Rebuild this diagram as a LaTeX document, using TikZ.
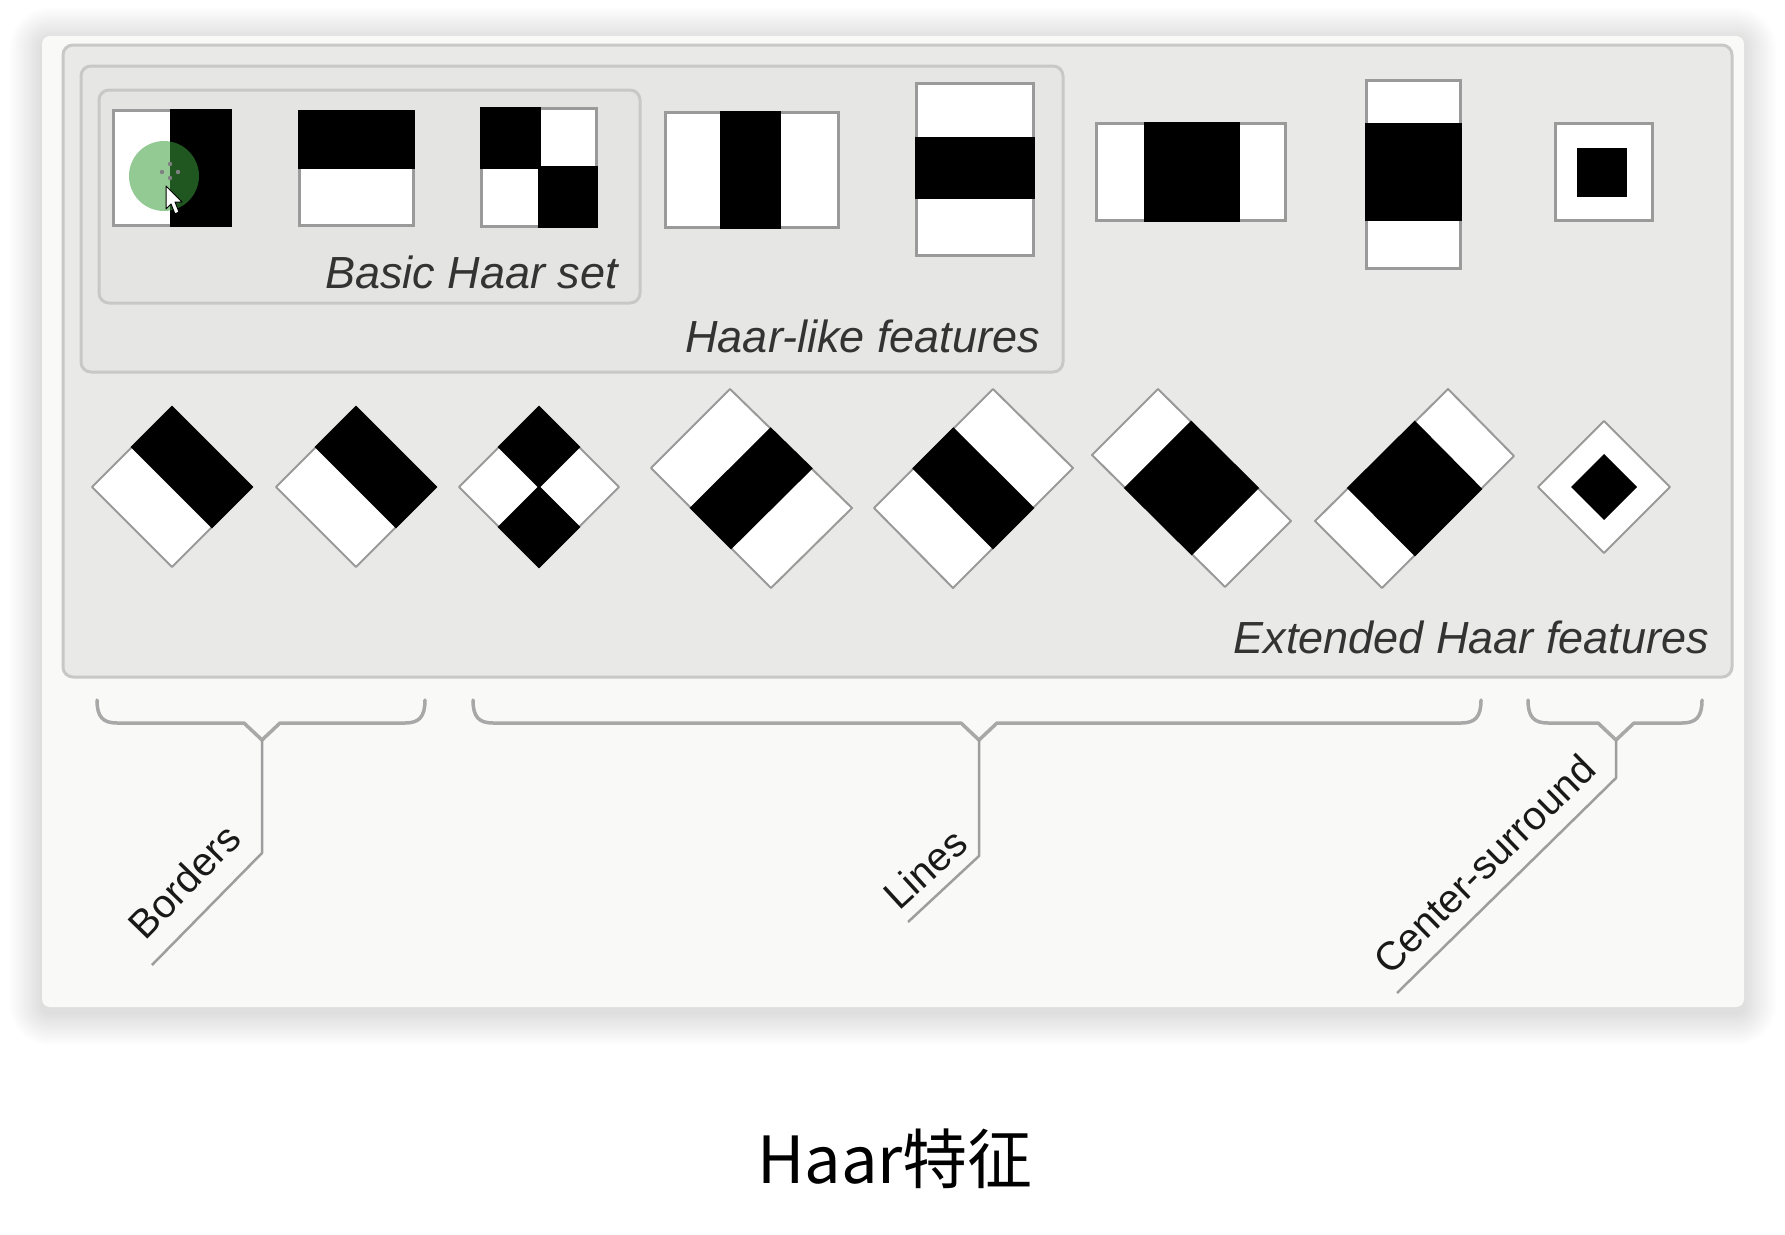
\documentclass[tikz,border=0pt]{standalone}
\usepackage{fontspec}
\setmainfont{Liberation Sans}
\newfontfamily\cjkfont{Noto Sans CJK SC}
\usetikzlibrary{calc}
\definecolor{cardbg}{HTML}{F9FAF8}
\definecolor{panelA}{HTML}{E9EAE8}
\definecolor{panelB}{HTML}{E6E7E5}
\definecolor{panelC}{HTML}{E4E5E3}
\definecolor{panelline}{HTML}{C8C9C7}
\definecolor{featline}{HTML}{9A9A9A}
\definecolor{bracecol}{HTML}{A8A8A8}
\definecolor{leadcol}{HTML}{9E9E9E}
\definecolor{labelcol}{HTML}{333333}
\definecolor{cursorgreen}{RGB}{60,160,60}
\begin{document}
\begin{tikzpicture}[x=1pt,y=-1pt,
  panel/.style={draw=panelline, line width=3pt, rounded corners=10pt},
  feat/.style={draw=featline, fill=white, line width=3pt},
  blk/.style={fill=black, draw=black, line width=3pt},
  dia/.style={draw=featline, fill=white, line width=2pt, line join=round},
  dblk/.style={fill=black, draw=black, line width=2pt},
  brace/.style={draw=bracecol, line width=3.5pt, line join=round, line cap=round},
  leader/.style={draw=leadcol, line width=2.5pt, line join=round},
  ital/.style={font=\fontsize{45}{54}\selectfont\itshape, text=labelcol, inner sep=0pt},
  tag/.style={font=\fontsize{40}{48}\selectfont, text=black!90, inner sep=0pt}]
\useasboundingbox (0,0) rectangle (1785,1234);
\fill[white] (0,0) rectangle (1785,1234);
% card shadow
\foreach \i in {1,...,16} {
  \pgfmathsetmacro\rr{8+2*\i}
  \fill[black, opacity=0.008, rounded corners=\rr pt] ({42-2*\i},{40-2*\i}) rectangle ({1744+2*\i},{1013+2*\i});
}
% card
\fill[cardbg, rounded corners=8pt] (42,36) rectangle (1744,1007);
% panels
\draw[panel, fill=panelA] (63,45) rectangle (1732,677);
\draw[panel, fill=panelB] (81,66) rectangle (1063,372);
\draw[panel, fill=panelC] (99,90) rectangle (640,303);
% rectangle features
\draw[feat] (113,110) rectangle (230,225);
\filldraw[blk] (171,110) rectangle (230,225);
\draw[feat] (299,111) rectangle (413,225);
\filldraw[blk] (299,111) rectangle (413,167);
\draw[feat] (481,108) rectangle (596,226);
\filldraw[blk] (481,108) rectangle (539,167);
\filldraw[blk] (539,167) rectangle (596,226);
\draw[feat] (665,112) rectangle (838,227);
\filldraw[blk] (721,112) rectangle (779,227);
\draw[feat] (916,83) rectangle (1033,255);
\filldraw[blk] (916,138) rectangle (1033,197);
\draw[feat] (1096,123) rectangle (1285,220);
\filldraw[blk] (1145,123) rectangle (1238,220);
\draw[feat] (1366,80) rectangle (1460,268);
\filldraw[blk] (1366,124) rectangle (1460,219);
\draw[feat] (1555,123) rectangle (1652,220);
\fill[black] (1577,148) rectangle (1627,197);
% cursor
\fill[cursorgreen, opacity=0.55] (164,176) circle (35);
\fill[gray] (170,164) circle (2.2) (162,172) circle (2.2) (178,172) circle (2.2) (170,178) circle (2.2);
\draw[black, fill=white, line width=1pt, line join=round] (166,186) -- (166,209) -- (171,204) -- (175,214) -- (179,212) -- (175,202) -- (182,202) -- cycle;
% labels of panels
\node[ital, anchor=base east] (basic) at (618,288) {Basic Haar set};
\node[ital, anchor=base east] (haarlike) at (1040,352) {Haar-like features};
\node[ital, anchor=base east] (extended) at (1709,653) {Extended Haar features};
% diamonds
\coordinate (d1T) at (172,407); \coordinate (d1R) at (252,487);
\coordinate (d1B) at (172,567); \coordinate (d1L) at (92,487);
\draw[dia] (d1T)--(d1R)--(d1B)--(d1L)--cycle;
\filldraw[dblk] (d1T)--(d1R)--($(d1R)!.5!(d1B)$)--($(d1T)!.5!(d1L)$)--cycle;
\coordinate (d2T) at (356,407); \coordinate (d2R) at (436,487);
\coordinate (d2B) at (356,567); \coordinate (d2L) at (276,487);
\draw[dia] (d2T)--(d2R)--(d2B)--(d2L)--cycle;
\filldraw[dblk] (d2T)--(d2R)--($(d2R)!.5!(d2B)$)--($(d2T)!.5!(d2L)$)--cycle;
\coordinate (d3T) at (539,407); \coordinate (d3R) at (619,487);
\coordinate (d3B) at (539,567); \coordinate (d3L) at (459,487);
\coordinate (d3C) at (539,487);
\draw[dia] (d3T)--(d3R)--(d3B)--(d3L)--cycle;
\filldraw[dblk] (d3T)--($(d3T)!.5!(d3R)$)--(d3C)--($(d3T)!.5!(d3L)$)--cycle;
\filldraw[dblk] (d3B)--($(d3B)!.5!(d3R)$)--(d3C)--($(d3B)!.5!(d3L)$)--cycle;
\coordinate (d4T) at (730,389); \coordinate (d4R) at (852,508);
\coordinate (d4B) at (771,588); \coordinate (d4L) at (651,468);
\draw[dia] (d4T)--(d4R)--(d4B)--(d4L)--cycle;
\filldraw[dblk] ($(d4T)!.3333!(d4R)$)--($(d4T)!.6667!(d4R)$)--($(d4L)!.6667!(d4B)$)--($(d4L)!.3333!(d4B)$)--cycle;
\coordinate (d5T) at (993,389); \coordinate (d5R) at (1073,468);
\coordinate (d5B) at (953,588); \coordinate (d5L) at (874,508);
\draw[dia] (d5T)--(d5R)--(d5B)--(d5L)--cycle;
\filldraw[dblk] ($(d5T)!.3333!(d5L)$)--($(d5T)!.6667!(d5L)$)--($(d5R)!.6667!(d5B)$)--($(d5R)!.3333!(d5B)$)--cycle;
\coordinate (d6T) at (1158,389); \coordinate (d6R) at (1291,521);
\coordinate (d6B) at (1225,587); \coordinate (d6L) at (1092,455);
\draw[dia] (d6T)--(d6R)--(d6B)--(d6L)--cycle;
\filldraw[dblk] ($(d6T)!.25!(d6R)$)--($(d6T)!.75!(d6R)$)--($(d6L)!.75!(d6B)$)--($(d6L)!.25!(d6B)$)--cycle;
\coordinate (d7T) at (1448,389); \coordinate (d7R) at (1514,456);
\coordinate (d7B) at (1382,588); \coordinate (d7L) at (1315,521);
\draw[dia] (d7T)--(d7R)--(d7B)--(d7L)--cycle;
\filldraw[dblk] ($(d7T)!.25!(d7L)$)--($(d7T)!.75!(d7L)$)--($(d7R)!.75!(d7B)$)--($(d7R)!.25!(d7B)$)--cycle;
\coordinate (d8T) at (1604,421); \coordinate (d8R) at (1670,487);
\coordinate (d8B) at (1604,553); \coordinate (d8L) at (1538,487);
\draw[dia] (d8T)--(d8R)--(d8B)--(d8L)--cycle;
\fill[black] (1604,454)--(1637,487)--(1604,520)--(1571,487)--cycle;
% braces and leaders
\coordinate (b1l) at (97,700); \coordinate (b1r) at (425,700);
\coordinate (b1t) at (262,740); \coordinate (b1k) at (262,853);
\coordinate (b1e) at (152,965);
\coordinate (b2l) at (473,700); \coordinate (b2r) at (1481,700);
\coordinate (b2t) at (979,740); \coordinate (b2k) at (979,856);
\coordinate (b2e) at (908,922);
\coordinate (b3l) at (1528,700); \coordinate (b3r) at (1702,700);
\coordinate (b3t) at (1616,740); \coordinate (b3k) at (1616,778);
\coordinate (b3e) at (1397,993);
\foreach \b in {b1,b2,b3} {
  \draw[brace] (\b l) .. controls ($(\b l)+(0,17)$) and ($(\b l)+(6,23)$) .. ($(\b l)+(20,23)$)
    -- ($(\b t)+(-18,-17)$) -- (\b t) -- ($(\b t)+(18,-17)$)
    -- ($(\b r)+(-20,23)$) .. controls ($(\b r)+(-6,23)$) and ($(\b r)+(0,17)$) .. (\b r);
  \draw[leader] (\b t) -- (\b k) -- (\b e);
}
\node[tag, rotate=45.8] (borders) at (184,881) {Borders};
\node[tag, rotate=42.5] (lines) at (925,869) {Lines};
\node[tag, rotate=44.5] (center) at (1484,864) {Center-surround};
% caption
\node[font=\cjkfont\fontsize{65}{78}\selectfont, anchor=base west, inner sep=0pt] (caption) at (757,1183) {Haar特征};
\end{tikzpicture}
\end{document}
